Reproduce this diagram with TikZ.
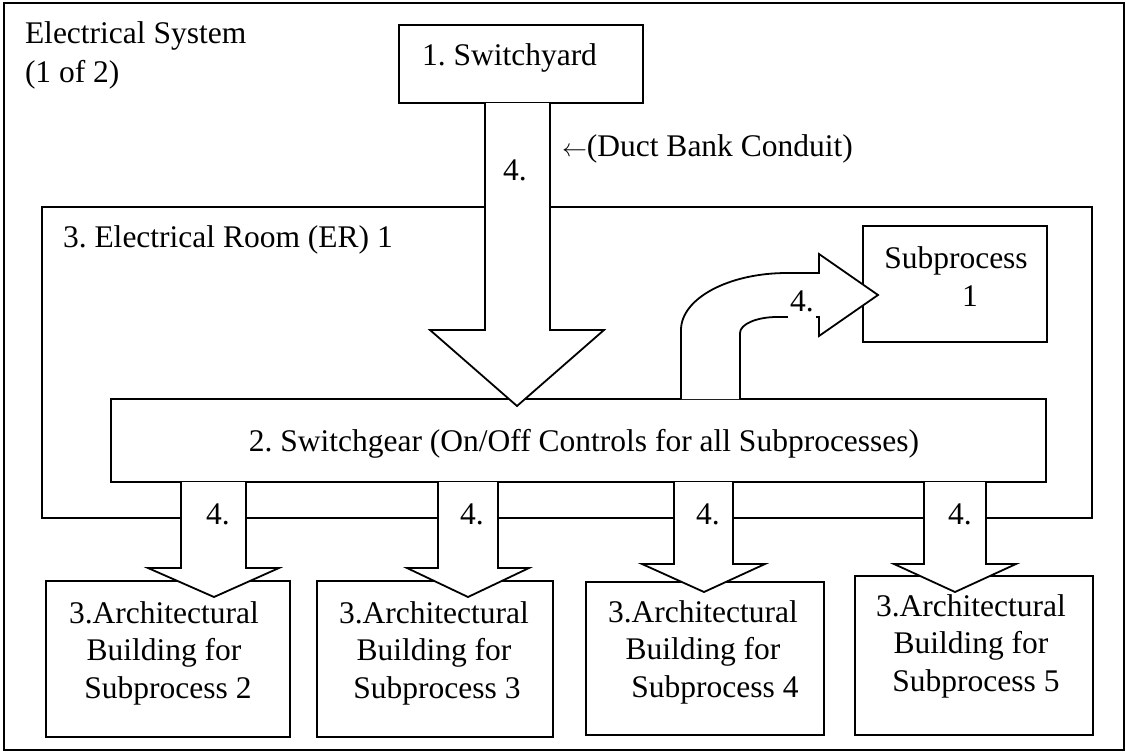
\documentclass[tikz,border=0pt]{standalone}
\usepackage{fontspec}
\setmainfont{Liberation Serif}
\usetikzlibrary{calc}
\newcommand\dfont{\fontsize{31.5}{37.5}\selectfont\frenchspacing}
\begin{document}
\begin{tikzpicture}[x=1pt,y=-1pt,
  box/.style={draw, line width=1.8pt, fill=white, inner sep=0pt, outer sep=0pt},
  blk/.style={draw, fill=white, line width=1.8pt, line join=miter},
  lbl/.style={font=\dfont, inner sep=0pt, outer sep=0pt},
  num/.style={font=\dfont, inner sep=0pt, outer sep=0pt, anchor=base},
]
\useasboundingbox (0,0) rectangle (1126,752);
% outer frame
\node[box, line width=2.6pt, minimum width=1120pt, minimum height=747pt] (frame) at (564,376.5) {};
\node[lbl, anchor=base west] (title1) at (25,44) {Electrical System};
\node[lbl, anchor=base west] (title2) at (25,82) {(1 of 2)};
% electrical room
\node[box, minimum width=1050pt, minimum height=311pt] (er) at (567,362.5) {};
\node[lbl, anchor=base west] (ert) at (63,247) {3. Electrical Room (ER) 1};
% switchyard
\node[box, minimum width=244pt, minimum height=78pt] (sy) at (521,64) {};
\node[lbl, anchor=base west] (syt) at (422,65) {1. Switchyard};
% subprocess 1
\node[box, minimum width=184pt, minimum height=116pt] (sp) at (955,284) {};
\node[lbl, anchor=base] (spt1) at (956,268) {Subprocess};
\node[lbl, anchor=base] (spt2) at (970,306) {1};
% switchgear
\node[box, minimum width=935pt, minimum height=83pt] (sg) at (578.5,440.5) {};
\node[lbl, anchor=base] (sgt) at (584,451) {2. Switchgear (On/Off Controls for all Subprocesses)};
% big down arrow switchyard -> switchgear
\filldraw[blk] (485,0 |- sy.south) -- (485,330) -- (430,330) -- (517,406)
  -- (604,330) -- (550,330) -- (550,0 |- sy.south);
\node[num] (l0) at (515,180) {4.};
\node[lbl, anchor=base west] (duct) at (562,156) {$\leftarrow$(Duct Bank Conduit)};
% curved arrow switchgear -> subprocess 1
\filldraw[blk] (681,0 |- sg.north) -- (681,330)
  .. controls (681,298.5) and (728.5,273) .. (787,273) -- (819,273) -- (819,254)
  -- (878,295) -- (819,336) -- (819,317) -- (777,317)
  .. controls (756.6,317) and (740,324.2) .. (740,333) -- (740,0 |- sg.north);
\node[num, fill=white, inner xsep=2pt, text depth=8pt] (l5) at (802,311) {4.};
% bottom buildings
\node[box, minimum width=244pt, minimum height=156pt] (b1) at (168,659) {};
\node[box, minimum width=236pt, minimum height=156pt] (b2) at (435,659) {};
\node[box, minimum width=238pt, minimum height=153pt] (b3) at (705,658.5) {};
\node[box, minimum width=238pt, minimum height=159pt] (b4) at (974,655.5) {};
\node[lbl, anchor=base, align=center] (b1t) at (164,698) {3.Architectural\\Building for\\\hspace*{8pt}Subprocess 2};
\node[lbl, anchor=base, align=center] (b2t) at (434,698) {3.Architectural\\Building for\\\hspace*{6pt}Subprocess 3};
\node[lbl, anchor=base, align=center] (b3t) at (703,697) {3.Architectural\\Building for\\\hspace*{24pt}Subprocess 4};
\node[lbl, anchor=base, align=center] (b4t) at (971,691) {3.Architectural\\Building for\\\hspace*{10pt}Subprocess 5};
% bottom arrows switchgear -> buildings
\filldraw[blk] (181,0 |- sg.south) -- (181,568) -- (148,568) -- (214,597) -- (279,568) -- (246,568) -- (246,0 |- sg.south);
\filldraw[blk] (438,0 |- sg.south) -- (438,568) -- (407,568) -- (468,597) -- (529,568) -- (498,568) -- (498,0 |- sg.south);
\filldraw[blk] (674,0 |- sg.south) -- (674,564) -- (642,564) -- (704,592) -- (765,564) -- (733,564) -- (733,0 |- sg.south);
\filldraw[blk] (924,0 |- sg.south) -- (924,564) -- (894,564) -- (955,592) -- (1016,564) -- (986,564) -- (986,0 |- sg.south);
\node[num] (l1) at (218,524) {4.};
\node[num] (l2) at (472,524) {4.};
\node[num] (l3) at (708,524) {4.};
\node[num] (l4) at (960,524) {4.};
\end{tikzpicture}
\end{document}
